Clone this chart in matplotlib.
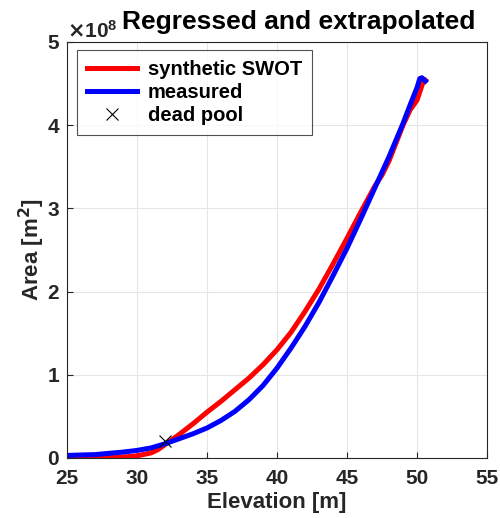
import matplotlib.pyplot as plt
from matplotlib.ticker import ScalarFormatter

plt.rcParams['font.family'] = ['Liberation Sans', 'DejaVu Sans']
plt.rcParams['font.weight'] = 'bold'

# измеренная кривая (площадь в 1e8 м2)
elev_meas = [25, 27, 29, 30, 31, 32, 33, 34, 35, 36, 37, 38, 39, 40, 41, 42, 43, 44,
             45, 46, 47, 48, 49, 49.5, 50, 50.2, 50.35, 50.6]
area_meas = [0.03, 0.04, 0.07, 0.09, 0.12, 0.17, 0.23, 0.29, 0.36, 0.45, 0.56, 0.70,
             0.87, 1.08, 1.32, 1.58, 1.87, 2.19, 2.52, 2.88, 3.25, 3.62, 4.02, 4.24,
             4.45, 4.56, 4.57, 4.53]

# синтетическая SWOT
elev_swot = [25, 27, 29, 30, 31, 31.5, 32, 33, 34, 35, 36, 37, 38, 39, 40, 41, 42, 43,
             44, 45, 46, 47, 47.5, 48, 49, 49.5, 50, 50.2, 50.4, 50.6]
area_swot = [0.0, 0.005, 0.01, 0.025, 0.06, 0.10, 0.16, 0.28, 0.41, 0.55, 0.68, 0.82,
             0.96, 1.12, 1.30, 1.51, 1.76, 2.03, 2.33, 2.64, 2.96, 3.27, 3.40, 3.57,
             4.00, 4.18, 4.30, 4.40, 4.50, 4.54]

dead_pool = (32, 0.2)

scale = 1e8
fig = plt.figure(figsize=(5, 5.18), dpi=100)
ax = fig.add_axes([0.134, 0.116, 0.84, 0.803])

ax.plot(elev_swot, [a * scale for a in area_swot], color='red', lw=3.6, label='synthetic SWOT')
ax.plot(elev_meas, [a * scale for a in area_meas], color='blue', lw=3.6, label='measured')
ax.plot(dead_pool[0], dead_pool[1] * scale, 'x', color='black', ms=9, mew=0.8,
        linestyle='none', label='dead pool')

ax.set_xlim(25, 55)
ax.set_ylim(0, 5e8)
ax.set_xticks(range(25, 56, 5))
ax.set_yticks([0, 1e8, 2e8, 3e8, 4e8, 5e8])
fmt = ScalarFormatter(useMathText=True)
fmt.set_powerlimits((0, 0))
ax.yaxis.set_major_formatter(fmt)
ax.yaxis.get_offset_text().set_fontsize(15)
ax.yaxis.get_offset_text().set_color('#262626')

ax.grid(True, color='#e6e6e6', lw=0.8)
ax.tick_params(direction='in', labelsize=15, colors='#262626', length=4, width=0.8)
ax.tick_params(axis='x', pad=8)
ax.tick_params(axis='y', pad=5)
for s in ax.spines.values():
    s.set_color('#262626')
    s.set_linewidth(0.8)
for lab in ax.get_xticklabels() + ax.get_yticklabels():
    lab.set_fontweight('bold')

ax.set_xlabel('Elevation [m]', fontsize=16, fontweight='bold', color='#262626', labelpad=3)
ax.set_ylabel('Area [m$^\\mathbf{2}$]', fontsize=16, fontweight='bold', color='#262626',
              labelpad=0)
fig.text(0.597, 0.944, 'Regressed and extrapolated', ha='center', va='baseline',
         fontsize=19, fontweight='bold')

leg = ax.legend(loc='upper left', bbox_to_anchor=(0.024, 0.981), borderaxespad=0,
                fontsize=14.5, frameon=True, fancybox=False, edgecolor='#262626',
                handlelength=2.5, handletextpad=0.5, borderpad=0.5, labelspacing=0.2)
leg.get_frame().set_linewidth(0.8)
for t in leg.get_texts():
    t.set_fontweight('bold')

fig.savefig('out.png', dpi=100)
